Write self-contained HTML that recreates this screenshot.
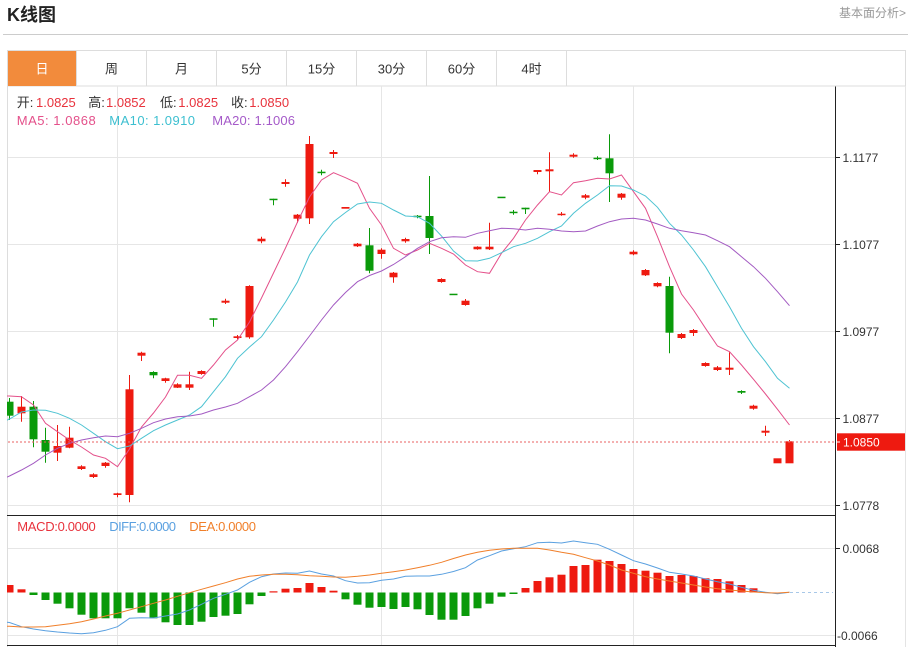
<!DOCTYPE html>
<html><head><meta charset="utf-8"><style>
html,body{margin:0;padding:0;background:#fff;width:910px;height:647px;overflow:hidden}
svg{display:block}
text{font-family:"Liberation Sans","Noto Sans CJK SC",sans-serif}
</style></head><body>
<svg width="910" height="647" viewBox="0 0 910 647" xmlns="http://www.w3.org/2000/svg">
<defs>
<clipPath id="cm"><rect x="7" y="86" width="828" height="429"/></clipPath>
<clipPath id="cd"><rect x="7" y="516" width="828" height="129"/></clipPath>
</defs>
<rect width="910" height="647" fill="#fff"/>
<!-- header -->
<text x="7" y="21" font-size="18" font-weight="bold" fill="#222">K线图</text>
<text x="839" y="17" font-size="12" fill="#999">基本面分析&gt;</text>
<line x1="3" y1="34.5" x2="908" y2="34.5" stroke="#ccc" stroke-width="1"/>
<!-- tabs -->
<rect x="7.5" y="50.5" width="898" height="35.5" fill="#fff" stroke="#ddd"/>
<rect x="8" y="51" width="68" height="35" fill="#f28b3c"/>
<g stroke="#ddd"><line x1="76.5" y1="51" x2="76.5" y2="86"/><line x1="146.5" y1="51" x2="146.5" y2="86"/><line x1="216.5" y1="51" x2="216.5" y2="86"/><line x1="286.5" y1="51" x2="286.5" y2="86"/><line x1="356.5" y1="51" x2="356.5" y2="86"/><line x1="426.5" y1="51" x2="426.5" y2="86"/><line x1="496.5" y1="51" x2="496.5" y2="86"/><line x1="566.5" y1="51" x2="566.5" y2="86"/></g>
<g font-size="13" text-anchor="middle" fill="#333">
<text x="42" y="73.5" fill="#fff">日</text><text x="111.5" y="73.5">周</text><text x="181.5" y="73.5">月</text><text x="251.5" y="73.5">5分</text><text x="321.5" y="73.5">15分</text><text x="391.5" y="73.5">30分</text><text x="461.5" y="73.5">60分</text><text x="531.5" y="73.5">4时</text>
</g>
<!-- frame -->
<line x1="7.5" y1="86" x2="7.5" y2="647" stroke="#ddd"/>
<line x1="905.5" y1="86" x2="905.5" y2="647" stroke="#e4e4e4"/>
<!-- grid -->
<g stroke="#e6e6e6" stroke-width="1">
<line x1="117.5" y1="86" x2="117.5" y2="645"/><line x1="381.5" y1="86" x2="381.5" y2="645"/><line x1="633.5" y1="86" x2="633.5" y2="645"/>
<line x1="8" y1="157.5" x2="835" y2="157.5"/><line x1="8" y1="244.5" x2="835" y2="244.5"/><line x1="8" y1="331.5" x2="835" y2="331.5"/><line x1="8" y1="418.5" x2="835" y2="418.5"/><line x1="8" y1="505.5" x2="835" y2="505.5"/>
<line x1="8" y1="548.5" x2="835" y2="548.5"/><line x1="8" y1="635.5" x2="835" y2="635.5"/>
</g>
<!-- info text -->
<g font-size="13">
<text y="107"><tspan x="16.7" fill="#333">开:</tspan><tspan x="36" fill="#e8323c">1.0825</tspan><tspan x="88.3" fill="#333">高:</tspan><tspan x="106" fill="#e8323c">1.0852</tspan><tspan x="160" fill="#333">低:</tspan><tspan x="178.3" fill="#e8323c">1.0825</tspan><tspan x="231" fill="#333">收:</tspan><tspan x="249.3" fill="#e8323c">1.0850</tspan></text>
<text x="16.7" y="125" fill="#e4508a" textLength="79" lengthAdjust="spacing">MA5: 1.0868</text>
<text x="109.3" y="125" fill="#3cbfd0" textLength="85.7" lengthAdjust="spacing">MA10: 1.0910</text>
<text x="212.3" y="125" fill="#a55ac9" textLength="82.7" lengthAdjust="spacing">MA20: 1.1006</text>
<text x="17.3" y="531" fill="#e8323c" textLength="78.4" lengthAdjust="spacing">MACD:0.0000</text>
<text x="109.3" y="531" fill="#5aa0e0" textLength="66.7" lengthAdjust="spacing">DIFF:0.0000</text>
<text x="189.3" y="531" fill="#f07f2a" textLength="66.7" lengthAdjust="spacing">DEA:0.0000</text>
</g>
<!-- candles -->
<g clip-path="url(#cm)">
<path fill="none" stroke="#ee1a10" stroke-width="1" d="M21.5 396V421.7M57.5 425V461M69.5 426.7V448.3M81.5 465.3V470M93.5 473.3V478M105.5 462V467.7M117.5 492.7V497.3M129.5 375V502.3M141.5 351.7V361M165.5 377.7V382.7M177.5 383.3V388M189.5 371.7V390M201.5 370.3V374.7M225.5 298.7V304M237.5 335V339.3M249.5 285.3V338.7M261.5 236.7V243.3M285.5 179.3V186.7M297.5 214V222.7M309.5 136V224M333.5 150V158M357.5 243V247M381.5 248.3V258.7M393.5 272V282.7M405.5 237.7V242.7M441.5 278.3V282.7M465.5 299V305.7M477.5 246.3V249.7M489.5 222.7V250M537.5 170V174.3M549.5 152.3V191.7M561.5 212V215.7M573.5 153.3V157.7M585.5 194V199.3M621.5 193V199.7M633.5 250.3V255.3M645.5 269V276M657.5 282.3V287.3M681.5 333V339M693.5 329V336M705.5 362.3V366.7M717.5 366V371M729.5 352.3V375M753.5 404.7V409.7M765.5 425.7V436M789.5 440V441.3"/>
<path fill="none" stroke="#0a9a0a" stroke-width="1" d="M9.5 398V420M33.5 401V447.3M45.5 427.7V462.7M153.5 371.3V378.3M213.5 318.3V326.7M273.5 198.7V205.3M321.5 169.7V175.3M369.5 228V273.3M417.5 215V218.3M429.5 176V254M513.5 210V214.7M525.5 207.7V214M597.5 156.3V160M609.5 134.3V202M669.5 276.7V353.3M741.5 390.3V394"/>
<g fill="#ee1a10">
<rect x="17.5" y="406.7" width="8" height="6.6"/><rect x="53.5" y="446" width="8" height="6.7"/><rect x="65.5" y="437.7" width="8" height="10"/><rect x="77.5" y="466.3" width="8" height="2.7"/><rect x="89.5" y="474.3" width="8" height="2.7"/><rect x="101.5" y="462.7" width="8" height="3.3"/><rect x="113.5" y="493.3" width="8" height="1.7"/><rect x="125.5" y="389.3" width="8" height="105.7"/><rect x="137.5" y="352.7" width="8" height="3"/><rect x="161.5" y="378.3" width="8" height="2.7"/><rect x="173.5" y="384.3" width="8" height="3.4"/><rect x="185.5" y="384.3" width="8" height="3.4"/><rect x="197.5" y="371" width="8" height="3"/><rect x="221.5" y="300.7" width="8" height="2"/><rect x="233.5" y="336.3" width="8" height="1.7"/><rect x="245.5" y="286" width="8" height="51.3"/><rect x="257.5" y="238.7" width="8" height="2.6"/><rect x="281.5" y="182" width="8" height="2"/><rect x="293.5" y="214.7" width="8" height="4"/><rect x="305.5" y="144" width="8" height="74.3"/><rect x="329.5" y="152" width="8" height="2"/><rect x="341.5" y="207" width="8" height="1.7"/><rect x="353.5" y="243.7" width="8" height="2.6"/><rect x="377.5" y="249.7" width="8" height="4.3"/><rect x="389.5" y="272.7" width="8" height="4.6"/><rect x="401.5" y="239" width="8" height="2.3"/><rect x="437.5" y="279" width="8" height="3"/><rect x="461.5" y="300.7" width="8" height="4.3"/><rect x="473.5" y="246.7" width="8" height="2.6"/><rect x="485.5" y="246.7" width="8" height="2.6"/><rect x="533.5" y="170" width="8" height="2"/><rect x="545.5" y="169.3" width="8" height="2"/><rect x="557.5" y="213.7" width="8" height="1.5"/><rect x="569.5" y="154.7" width="8" height="2"/><rect x="581.5" y="195.3" width="8" height="2.4"/><rect x="617.5" y="193.7" width="8" height="4"/><rect x="629.5" y="251.7" width="8" height="2.6"/><rect x="641.5" y="270" width="8" height="5.3"/><rect x="653.5" y="283" width="8" height="3.3"/><rect x="677.5" y="334" width="8" height="4"/><rect x="689.5" y="330" width="8" height="3"/><rect x="701.5" y="363" width="8" height="3"/><rect x="713.5" y="367.3" width="8" height="2.7"/><rect x="725.5" y="367.7" width="8" height="2"/><rect x="749.5" y="405.7" width="8" height="3"/><rect x="761.5" y="430.7" width="8" height="2"/><rect x="773.5" y="458.3" width="8" height="5"/><rect x="785.5" y="441.3" width="8" height="22"/>
</g>
<g fill="#0a9a0a">
<rect x="5.5" y="401.7" width="8" height="14"/><rect x="29.5" y="406.7" width="8" height="32.6"/><rect x="41.5" y="440" width="8" height="11.7"/><rect x="149.5" y="372" width="8" height="3.3"/><rect x="209.5" y="318.3" width="8" height="1.5"/><rect x="269.5" y="198.7" width="8" height="1.5"/><rect x="317.5" y="171.7" width="8" height="1.5"/><rect x="365.5" y="245.3" width="8" height="25.4"/><rect x="413.5" y="215.7" width="8" height="1.5"/><rect x="425.5" y="216" width="8" height="22"/><rect x="449.5" y="293.7" width="8" height="1.5"/><rect x="497.5" y="196.7" width="8" height="1.5"/><rect x="509.5" y="211.7" width="8" height="1.5"/><rect x="521.5" y="207.7" width="8" height="1.6"/><rect x="593.5" y="157.7" width="8" height="1.5"/><rect x="605.5" y="158.3" width="8" height="15"/><rect x="665.5" y="286" width="8" height="46.7"/><rect x="737.5" y="391" width="8" height="1.7"/>
</g>
<!-- MA lines -->
<polyline fill="none" stroke="#e4508a" stroke-width="1" points="5,396 9.5,396 21.5,396.7 33.5,405 45.5,423.3 57.5,431.7 69.5,440 81.5,447 93.5,455 105.5,458.3 117.5,466.7 129.5,449 141.5,427 153.5,413 165.5,397 177.5,375.3 189.5,375.3 201.5,378.3 213.5,365 225.5,350 237.5,340 249.5,322 261.5,298 273.5,273 285.5,248 297.5,222 309.5,197 321.5,180 333.5,172.7 345.5,177.7 357.5,183.3 369.5,208.3 381.5,225 393.5,248.3 405.5,255 417.5,250 429.5,243.3 441.5,248.3 453.5,254 465.5,265 477.5,271.7 489.5,273.3 501.5,253.3 513.5,238.3 525.5,220 537.5,205 549.5,191.7 561.5,195 573.5,182.7 585.5,180.7 597.5,178.3 609.5,179 621.5,175 633.5,191.7 645.5,208.3 657.5,236.7 669.5,266.7 681.5,294 693.5,310 705.5,328.3 717.5,346 729.5,351.7 741.5,365 753.5,379.3 765.5,394 777.5,409.3 789.5,425"/>
<polyline fill="none" stroke="#4ec3d2" stroke-width="1" points="5,421 9.5,419 21.5,412 33.5,410 45.5,410.3 57.5,413.3 69.5,418.3 81.5,425 93.5,433.3 105.5,441.7 117.5,448.7 129.5,446 141.5,438.3 153.5,430.7 165.5,425 177.5,420 189.5,415 201.5,406.7 213.5,391.7 225.5,376.7 237.5,358.3 249.5,347 261.5,336.7 273.5,320 285.5,302 297.5,282 309.5,255 321.5,236.7 333.5,221.7 345.5,212.5 357.5,204 369.5,202 381.5,203.3 393.5,210 405.5,216 417.5,216.7 429.5,223.3 441.5,236 453.5,251 465.5,260.7 477.5,261 489.5,258.3 501.5,252.7 513.5,246.7 525.5,243.3 537.5,238.3 549.5,231.7 561.5,226 573.5,213.3 585.5,203.3 597.5,195 609.5,185.7 621.5,186 633.5,190 645.5,196 657.5,207.3 669.5,223.3 681.5,235 693.5,250 705.5,266.7 717.5,286.7 729.5,306.7 741.5,328.3 753.5,346.7 765.5,361.7 777.5,378.3 789.5,388.3"/>
<polyline fill="none" stroke="#a35bc2" stroke-width="1" points="5,478 9.5,476 21.5,470 33.5,463.3 45.5,455 57.5,448.3 69.5,443.3 81.5,440 93.5,437.7 105.5,436 117.5,436.7 129.5,433.3 141.5,428.3 153.5,422.7 165.5,419 177.5,416.7 189.5,416 201.5,414 213.5,410 225.5,407 237.5,403.3 249.5,396.7 261.5,390 273.5,380 285.5,366.7 297.5,351.7 309.5,336 321.5,320 333.5,305 345.5,292.5 357.5,281.7 369.5,275.5 381.5,271 393.5,264.5 405.5,256.7 417.5,248.3 429.5,241.7 441.5,237.8 453.5,236.7 465.5,237.3 477.5,233.3 489.5,230.7 501.5,228.3 513.5,228.7 525.5,230 537.5,228.3 549.5,229.3 561.5,231 573.5,231.7 585.5,231 597.5,226 609.5,221.7 621.5,219 633.5,218.3 645.5,220 657.5,224 669.5,228.3 681.5,230.7 693.5,232.7 705.5,235 717.5,240.7 729.5,246.7 741.5,256.7 753.5,266.7 765.5,278.3 777.5,291.7 789.5,305.7"/>
</g>
<!-- current price line -->
<line x1="8" y1="442" x2="835" y2="442" stroke="#e86060" stroke-width="1" stroke-dasharray="2,2"/>
<!-- MACD -->
<g clip-path="url(#cd)">
<g fill="#ee1a10">
<rect x="5.5" y="585" width="8" height="7.5"/><rect x="17.5" y="589.3" width="8" height="3.2"/><rect x="269.5" y="591.3" width="8" height="1.2"/><rect x="281.5" y="588.7" width="8" height="3.8"/><rect x="293.5" y="588" width="8" height="4.5"/><rect x="305.5" y="583" width="8" height="9.5"/><rect x="317.5" y="587" width="8" height="5.5"/><rect x="329.5" y="590.7" width="8" height="1.8"/><rect x="521.5" y="588" width="8" height="4.5"/><rect x="533.5" y="581" width="8" height="11.5"/><rect x="545.5" y="577.3" width="8" height="15.2"/><rect x="557.5" y="574.7" width="8" height="17.8"/><rect x="569.5" y="566" width="8" height="26.5"/><rect x="581.5" y="565" width="8" height="27.5"/><rect x="593.5" y="559.7" width="8" height="32.8"/><rect x="605.5" y="561" width="8" height="31.5"/><rect x="617.5" y="564" width="8" height="28.5"/><rect x="629.5" y="569" width="8" height="23.5"/><rect x="641.5" y="570.7" width="8" height="21.8"/><rect x="653.5" y="572.7" width="8" height="19.8"/><rect x="665.5" y="576" width="8" height="16.5"/><rect x="677.5" y="575" width="8" height="17.5"/><rect x="689.5" y="576" width="8" height="16.5"/><rect x="701.5" y="578.3" width="8" height="14.2"/><rect x="713.5" y="579" width="8" height="13.5"/><rect x="725.5" y="581.3" width="8" height="11.2"/><rect x="737.5" y="585" width="8" height="7.5"/><rect x="749.5" y="588.3" width="8" height="4.2"/>
</g>
<g fill="#0a9a0a">
<rect x="29.5" y="592.5" width="8" height="2.5"/><rect x="41.5" y="592.5" width="8" height="7.5"/><rect x="53.5" y="592.5" width="8" height="11.2"/><rect x="65.5" y="592.5" width="8" height="15.8"/><rect x="77.5" y="592.5" width="8" height="22.2"/><rect x="89.5" y="592.5" width="8" height="25.8"/><rect x="101.5" y="592.5" width="8" height="25.8"/><rect x="113.5" y="592.5" width="8" height="25.8"/><rect x="125.5" y="592.5" width="8" height="15.8"/><rect x="137.5" y="592.5" width="8" height="20.2"/><rect x="149.5" y="592.5" width="8" height="25.8"/><rect x="161.5" y="592.5" width="8" height="29.8"/><rect x="173.5" y="592.5" width="8" height="32.5"/><rect x="185.5" y="592.5" width="8" height="32.5"/><rect x="197.5" y="592.5" width="8" height="29.2"/><rect x="209.5" y="592.5" width="8" height="24.5"/><rect x="221.5" y="592.5" width="8" height="23.2"/><rect x="233.5" y="592.5" width="8" height="21.5"/><rect x="245.5" y="592.5" width="8" height="11.8"/><rect x="257.5" y="592.5" width="8" height="3.5"/><rect x="341.5" y="592.5" width="8" height="6.8"/><rect x="353.5" y="592.5" width="8" height="12.2"/><rect x="365.5" y="592.5" width="8" height="15.2"/><rect x="377.5" y="592.5" width="8" height="14.5"/><rect x="389.5" y="592.5" width="8" height="16.5"/><rect x="401.5" y="592.5" width="8" height="14.5"/><rect x="413.5" y="592.5" width="8" height="16.8"/><rect x="425.5" y="592.5" width="8" height="22.5"/><rect x="437.5" y="592.5" width="8" height="27.2"/><rect x="449.5" y="592.5" width="8" height="27.2"/><rect x="461.5" y="592.5" width="8" height="23.5"/><rect x="473.5" y="592.5" width="8" height="15.8"/><rect x="485.5" y="592.5" width="8" height="11.2"/><rect x="497.5" y="592.5" width="8" height="4.2"/><rect x="509.5" y="592.5" width="8" height="1.5"/>
</g>
<line x1="790" y1="592.5" x2="833" y2="592.5" stroke="#a8c8e8" stroke-dasharray="3,3"/>
<polyline fill="none" stroke="#5aa0e0" stroke-width="1" points="5,622 9.5,622.5 21.5,626.7 33.5,629 45.5,630.7 57.5,632 69.5,633 81.5,633.7 93.5,632.7 105.5,630.3 117.5,626.7 129.5,618.3 141.5,617.7 153.5,618 165.5,616 177.5,614 189.5,610 201.5,604.3 213.5,598.3 225.5,594.3 237.5,590 249.5,582.3 261.5,576.7 273.5,574 285.5,573 297.5,573.3 309.5,571 321.5,574 333.5,576 345.5,580.7 357.5,583 369.5,582.7 381.5,580.3 393.5,579 405.5,576.3 417.5,576 429.5,576 441.5,574.3 453.5,571.5 465.5,567.7 477.5,560 489.5,555.7 501.5,551 513.5,548.7 525.5,546.7 537.5,542.7 549.5,542.3 561.5,543 573.5,541 585.5,542.7 597.5,544.3 609.5,549.3 621.5,555 633.5,560.7 645.5,564 657.5,568 669.5,572.3 681.5,574 693.5,576 705.5,579 717.5,581.7 729.5,584 741.5,587.3 753.5,590.3 765.5,592.3 777.5,593.7 789.5,592.3"/>
<polyline fill="none" stroke="#f07f2a" stroke-width="1" points="5,626.3 9.5,626.3 21.5,627 33.5,627 45.5,626.7 57.5,625.3 69.5,623.7 81.5,621.7 93.5,619 105.5,616 117.5,613.3 129.5,610 141.5,606.7 153.5,603.3 165.5,600 177.5,596.3 189.5,592.7 201.5,589.3 213.5,586 225.5,582.7 237.5,579 249.5,576.3 261.5,575 273.5,574.3 285.5,574.3 297.5,574.7 309.5,575.7 321.5,576.3 333.5,577 345.5,577.3 357.5,576.3 369.5,575 381.5,573.3 393.5,571.7 405.5,570 417.5,567.7 429.5,565.3 441.5,562.3 453.5,558.5 465.5,555 477.5,552.3 489.5,550.3 501.5,549 513.5,548.3 525.5,548.3 537.5,548.3 549.5,550 561.5,552.3 573.5,554.3 585.5,557.7 597.5,561 609.5,565 621.5,570 633.5,573.3 645.5,576.7 657.5,579 669.5,581 681.5,583 693.5,585 705.5,587 717.5,588.7 729.5,590 741.5,591 753.5,592 765.5,592.7 777.5,593 789.5,592.3"/>
</g>
<!-- axes -->
<g stroke="#222" stroke-width="1">
<line x1="835.5" y1="86.5" x2="835.5" y2="647"/>
<line x1="7" y1="515.5" x2="836" y2="515.5"/>
<line x1="7" y1="645.5" x2="836" y2="645.5"/>
<line x1="835.5" y1="157.5" x2="840" y2="157.5"/><line x1="835.5" y1="244.5" x2="840" y2="244.5"/><line x1="835.5" y1="331.5" x2="840" y2="331.5"/><line x1="835.5" y1="418.5" x2="840" y2="418.5"/><line x1="835.5" y1="505.5" x2="840" y2="505.5"/><line x1="835.5" y1="548.5" x2="840" y2="548.5"/>
</g>
<g font-size="12" fill="#333">
<text x="842.5" y="162">1.1177</text><text x="842.5" y="249">1.1077</text><text x="842.5" y="336">1.0977</text><text x="842.5" y="423">1.0877</text><text x="842.5" y="510">1.0778</text><text x="842.5" y="553">0.0068</text><text x="837" y="640">-0.0066</text>
</g>
<rect x="837" y="433.3" width="68" height="17.4" fill="#ee1a10"/>
<line x1="836" y1="442" x2="840" y2="442" stroke="#fff"/>
<text x="843" y="446.5" font-size="12" fill="#fff">1.0850</text>
</svg>
</body></html>
